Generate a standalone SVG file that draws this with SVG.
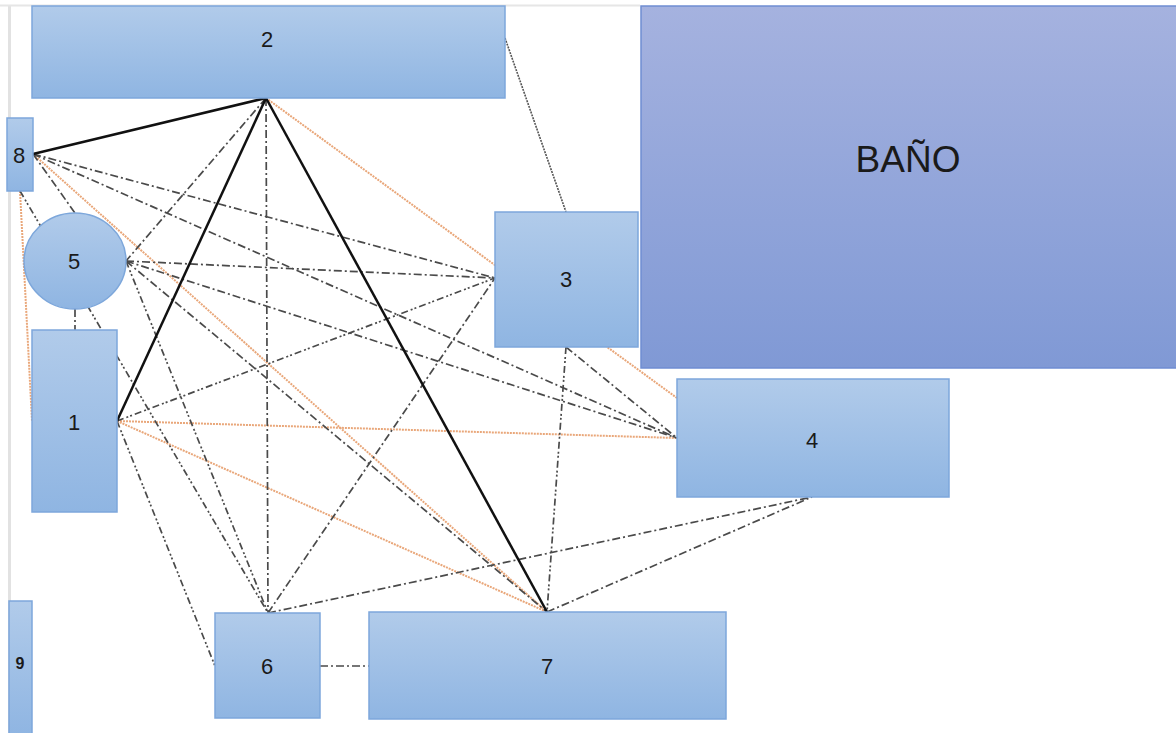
<svg xmlns="http://www.w3.org/2000/svg" width="1176" height="733" viewBox="0 0 1176 733">
<defs>
<linearGradient id="gb" x1="0" y1="0" x2="0" y2="1"><stop offset="0" stop-color="#B1CBEA"/><stop offset="1" stop-color="#8FB5E2"/></linearGradient>
<linearGradient id="gp" x1="0" y1="0" x2="0" y2="1"><stop offset="0" stop-color="#A5B2DF"/><stop offset="1" stop-color="#8099D5"/></linearGradient>
<style>
.n{fill:url(#gb);stroke:#7DA7DB;stroke-width:1.5}
.b{fill:url(#gp);stroke:#6F8DD2;stroke-width:1.5}
.t{font-family:"Liberation Sans",Arial,sans-serif;font-size:22px;fill:#1a1a1a;text-anchor:middle;dominant-baseline:central}
.k{stroke:#111;stroke-width:2.5;fill:none}
.o{stroke:#E9A77A;stroke-width:2;stroke-dasharray:2 1;fill:none}
.d{stroke:#4a4a4a;stroke-width:1.7;stroke-dasharray:8 3 2 3;fill:none}
.dd{stroke:#4a4a4a;stroke-width:1.7;stroke-dasharray:7 3 2 2 2 3;fill:none}
.g{stroke:#555;stroke-width:1.6;stroke-dasharray:2 1;fill:none}
</style>
</defs>
<rect width="1176" height="733" fill="#fff"/>
<line x1="9.5" y1="6" x2="9.5" y2="733" stroke="#E2E2E2" stroke-width="3"/>
<line x1="0" y1="5.5" x2="640" y2="5.5" stroke="#E6E6E6" stroke-width="2"/>
<g id="connectors">
<line class="g" x1="505" y1="38" x2="566" y2="212"/>
<line class="o" x1="266" y1="98" x2="677" y2="398"/>
<line class="o" x1="33" y1="154" x2="547" y2="612"/>
<line class="o" x1="20" y1="191" x2="32" y2="421"/>
<line class="o" x1="117" y1="421" x2="677" y2="438"/>
<line class="o" x1="117" y1="421" x2="547" y2="612"/>
<line class="d" x1="266" y1="98" x2="126" y2="261"/>
<line class="d" x1="266" y1="98" x2="268" y2="613"/>
<line class="d" x1="33" y1="154" x2="495" y2="278"/>
<line class="d" x1="33" y1="154" x2="677" y2="438"/>
<line class="d" x1="33" y1="154" x2="75" y2="213"/>
<line class="dd" x1="20" y1="191" x2="268" y2="613"/>
<line class="d" x1="126" y1="261" x2="495" y2="278"/>
<line class="d" x1="126" y1="261" x2="677" y2="438"/>
<line class="d" x1="126" y1="261" x2="547" y2="612"/>
<line class="dd" x1="126" y1="261" x2="268" y2="613"/>
<line class="d" x1="75" y1="309" x2="75" y2="330"/>
<line class="dd" x1="117" y1="421" x2="495" y2="278"/>
<line class="dd" x1="117" y1="421" x2="215" y2="666"/>
<line class="d" x1="268" y1="613" x2="495" y2="278"/>
<line class="d" x1="268" y1="613" x2="812" y2="497"/>
<line class="d" x1="547" y1="612" x2="812" y2="497"/>
<line class="dd" x1="566" y1="347" x2="547" y2="612"/>
<line class="d" x1="566" y1="347" x2="677" y2="438"/>
<line class="d" x1="320" y1="666" x2="369" y2="666"/>
<line class="k" x1="266" y1="98" x2="33" y2="154"/>
<line class="k" x1="266" y1="98" x2="117" y2="421"/>
<line class="k" x1="266" y1="98" x2="547" y2="612"/>
</g>
<g id="node-2"><rect class="n" x="32" y="6" width="473" height="92"/><text class="t" x="267" y="39">2</text></g>
<g id="node-bano"><rect class="b" x="641" y="6" width="536" height="362"/><text class="t" x="908" y="159" style="font-size:37px">BAÑO</text></g>
<g id="node-8"><rect class="n" x="7" y="118" width="26" height="73"/><text class="t" x="19" y="155">8</text></g>
<g id="node-5"><ellipse class="n" cx="75" cy="261" rx="51" ry="48"/><text class="t" x="74" y="261">5</text></g>
<g id="node-1"><rect class="n" x="32" y="330" width="85" height="182"/><text class="t" x="74" y="422">1</text></g>
<g id="node-3"><rect class="n" x="495" y="212" width="143" height="135"/><text class="t" x="566" y="279">3</text></g>
<g id="node-4"><rect class="n" x="677" y="379" width="272" height="118"/><text class="t" x="812" y="440">4</text></g>
<g id="node-6"><rect class="n" x="215" y="613" width="105" height="105"/><text class="t" x="267" y="666">6</text></g>
<g id="node-7"><rect class="n" x="369" y="612" width="357" height="107"/><text class="t" x="547" y="666">7</text></g>
<g id="node-9"><rect class="n" x="9" y="601" width="23" height="134"/><text class="t" x="20" y="663" style="font-size:16px;font-weight:bold">9</text></g>
</svg>
